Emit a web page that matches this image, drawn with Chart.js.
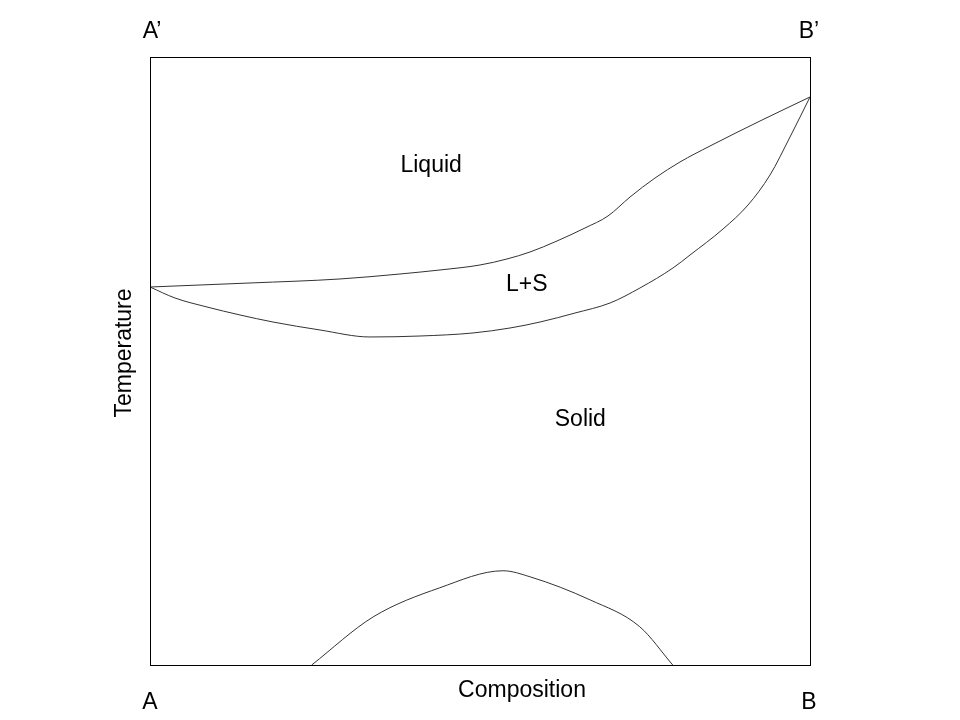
<!DOCTYPE html>
<html>
<head>
<meta charset="utf-8">
<script src="https://cdn.jsdelivr.net/npm/chart.js@4/dist/chart.umd.min.js"></script>
<style>
  html, body { margin: 0; padding: 0; background: #fff; }
  #wrap { width: 960px; height: 720px; }
</style>
</head>
<body>
<div id="wrap"><canvas id="phase"></canvas></div>
<script>
// Composition (0..100, A -> B) and temperature (0..100)
const liquidusX = [0, 15.15, 28.79, 37.88, 43.94, 50.0, 54.09, 57.58, 61.67, 65.91, 69.39,
  72.73, 76.52, 80.30, 84.85, 92.42, 100];
const liquidusY = [62.17, 62.83, 63.49, 64.31, 64.97, 65.79, 66.78, 67.93, 69.74, 71.88, 73.85,
  76.97, 80.10, 82.73, 85.36, 89.47, 93.42];

const solidusX = [0, 3.79, 8.64, 13.64, 18.64, 25.76, 33.33, 40.91, 48.94, 54.55, 59.09, 64.39,
  69.70, 74.24, 79.24, 81.82, 86.82, 90.61, 93.94, 96.97, 100];
const solidusY = [62.17, 60.36, 58.88, 57.57, 56.41, 55.10, 53.95, 54.11, 54.61, 55.43, 56.41, 57.89,
  59.54, 62.01, 65.30, 67.43, 71.71, 75.66, 80.59, 86.84, 93.42];

const domeX = [24.5, 33.8, 43.9, 53.5, 57.6, 66.7, 74.2, 79.2];
const domeY = [0, 7.9, 12.7, 15.5, 14.5, 10.7, 6.3, 0];

// region labels: [text, composition, temperature]
const regionLabels = [
  ['Liquid', 42.6, 82.1],
  ['L+S', 57.1, 62.5],
  ['Solid', 65.2, 40.3]
];

const toPoints = (xs, ys) => xs.map((x, i) => ({ x: x, y: ys[i] }));

const lineStyle = {
  showLine: true,
  borderColor: '#333',
  borderWidth: 1,
  pointRadius: 0,
  fill: false,
  cubicInterpolationMode: 'monotone'
};

const frameAndText = {
  id: 'frameAndText',
  afterDraw(chart) {
    const ctx = chart.ctx;
    const a = chart.chartArea;
    const xs = chart.scales.x, ys = chart.scales.y;
    ctx.save();
    ctx.strokeStyle = '#000';
    ctx.lineWidth = 1;
    ctx.strokeRect(a.left + 0.5, a.top + 0.5, a.right - a.left, a.bottom - a.top);

    ctx.fillStyle = '#000';
    ctx.font = '23px "Liberation Sans", Arial, sans-serif';
    ctx.textAlign = 'center';
    ctx.textBaseline = 'middle';

    regionLabels.forEach(([t, cx, cy]) => {
      ctx.fillText(t, xs.getPixelForValue(cx), ys.getPixelForValue(cy));
    });

    ctx.fillText('A\u2019', a.left + 2, a.top - 25);
    ctx.fillText('B\u2019', a.right - 1, a.top - 25);
    ctx.fillText('A', a.left, a.bottom + 38);
    ctx.fillText('B', a.right - 1, a.bottom + 38);
    ctx.fillText('Composition', (a.left + a.right) / 2 + 42, a.bottom + 26);

    ctx.translate(a.left - 25, (a.top + a.bottom) / 2 - 8);
    ctx.rotate(-Math.PI / 2);
    ctx.fillText('Temperature', 0, 0);
    ctx.restore();
  }
};

new Chart(document.getElementById('phase'), {
  type: 'scatter',
  data: {
    datasets: [
      Object.assign({ label: 'Liquidus', data: toPoints(liquidusX, liquidusY) }, lineStyle),
      Object.assign({ label: 'Solidus', data: toPoints(solidusX, solidusY) }, lineStyle),
      Object.assign({ label: 'Solvus', data: toPoints(domeX, domeY) }, lineStyle)
    ]
  },
  options: {
    responsive: true,
    maintainAspectRatio: false,
    animation: false,
    layout: { padding: { left: 150, right: 150, top: 57, bottom: 55 } },
    plugins: { legend: { display: false }, tooltip: { enabled: false } },
    scales: {
      x: { type: 'linear', min: 0, max: 100, display: false },
      y: { type: 'linear', min: 0, max: 100, display: false }
    }
  },
  plugins: [frameAndText]
});
</script>
</body>
</html>
